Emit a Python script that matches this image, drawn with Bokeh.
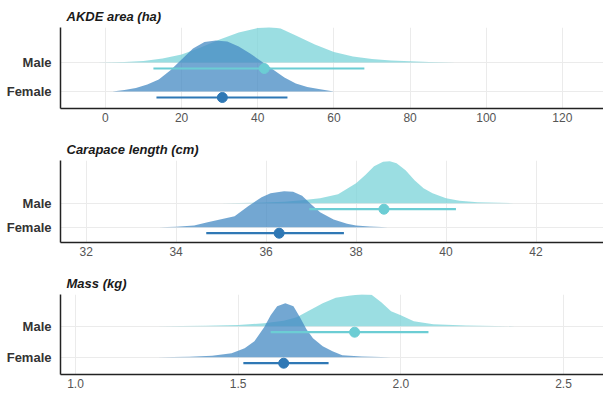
from bokeh.plotting import figure
from bokeh.layouts import column
from bokeh.models import FixedTicker, Range1d
from bokeh.embed import file_html
from bokeh.resources import INLINE

categories = ["Male", "Female"]

# ---- AKDE area (ha) ----
akde_x_male = [-2, 5, 10, 15, 20, 25, 30, 35, 40, 43, 46, 50, 55, 60, 65, 70, 75, 80, 85, 92]
akde_h_male = [0, 0.5, 1.5, 4, 8, 15, 23, 30, 34.5, 35.5, 34, 27, 18, 10.5, 6, 3.5, 2, 1.2, 0.6, 0]
akde_x_female = [1.8, 5, 8, 11, 14, 17, 20, 23, 26, 29, 32, 35, 38, 41, 44, 47, 50, 53, 56, 60]
akde_h_female = [0, 1.5, 3.5, 7, 12, 21, 32, 43, 49.5, 51, 50, 45, 38, 30, 22, 14, 8, 4.5, 2.5, 0]
akde_male_interval = [41.7, 12.6, 68.0]      # median, lower, upper
akde_female_interval = [30.7, 13.4, 47.8]
akde_ticks = [0, 20, 40, 60, 80, 100, 120]
akde_tick_labels = ["0", "20", "40", "60", "80", "100", "120"]

# ---- Carapace length (cm) ----
carapace_x_male = [35.0, 35.8, 36.4, 36.8, 37.2, 37.6, 38.0, 38.2, 38.4, 38.6, 38.75, 38.9, 39.1, 39.3, 39.5, 39.7, 40.0, 40.3, 40.7, 41.5]
carapace_h_male = [0, 0.5, 1.5, 3, 5, 9, 20, 28, 37, 41.5, 42, 40, 33, 23, 15, 10, 5, 2.5, 1, 0]
carapace_x_female = [33.62, 34.0, 34.4, 34.7, 35.0, 35.3, 35.6, 35.9, 36.1, 36.4, 36.6, 36.8, 37.0, 37.2, 37.5, 37.8, 38.0, 38.3, 38.7]
carapace_h_female = [0, 0.5, 1.7, 5, 8, 11, 21, 30, 34, 36, 35.5, 31.5, 23, 15, 7.7, 3.5, 1.7, 0.7, 0]
carapace_male_interval = [38.62, 36.96, 40.22]
carapace_female_interval = [36.29, 34.67, 37.73]
carapace_ticks = [32, 34, 36, 38, 40, 42]
carapace_tick_labels = ["32", "34", "36", "38", "40", "42"]

# ---- Mass (kg) ----
mass_x_male = [1.25, 1.40, 1.50, 1.58, 1.64, 1.68, 1.72, 1.76, 1.80, 1.84, 1.88, 1.91, 1.94, 1.97, 2.00, 2.04, 2.10, 2.20, 2.35]
mass_h_male = [0, 0.5, 1.2, 3, 5.5, 9, 16, 23, 28.5, 30.5, 32, 31.5, 24, 15, 11, 5, 2, 0.7, 0]
mass_x_female = [1.25, 1.35, 1.42, 1.48, 1.52, 1.55, 1.58, 1.60, 1.62, 1.645, 1.67, 1.69, 1.71, 1.73, 1.76, 1.79, 1.82, 1.88, 1.97]
mass_h_female = [0, 0.5, 1.5, 4, 9, 16, 30, 42, 51, 54, 51, 40, 28, 19, 11, 6, 2, 0.7, 0]
mass_male_interval = [1.858, 1.60, 2.085]
mass_female_interval = [1.64, 1.516, 1.778]
mass_ticks = [1.0, 1.5, 2.0, 2.5]
mass_tick_labels = ["1.0", "1.5", "2.0", "2.5"]

MALE_FILL = (122, 211, 216)
FEMALE_FILL = (68, 138, 195)
MALE_PT = "#6ccdd4"
FEMALE_PT = "#2f78b5"
FONT = "Liberation Sans"

W = 603
panels = [
    dict(title="AKDE area (ha)", xm=akde_x_male, hm=akde_h_male, xf=akde_x_female, hf=akde_h_female,
         im=akde_male_interval, iff=akde_female_interval, ticks=akde_ticks, labels=akde_tick_labels,
         xr=(-11.8, 130.8), yr=(-17, 64), moff=29, top=27, fh=81, bot=20),
    dict(title="Carapace length (cm)", xm=carapace_x_male, hm=carapace_h_male, xf=carapace_x_female, hf=carapace_h_female,
         im=carapace_male_interval, iff=carapace_female_interval, ticks=carapace_ticks, labels=carapace_tick_labels,
         xr=(31.43, 43.5), yr=(-15.3, 66.7), moff=24, top=32, fh=82, bot=20),
    dict(title="Mass (kg)", xm=mass_x_male, hm=mass_h_male, xf=mass_x_female, hf=mass_h_female,
         im=mass_male_interval, iff=mass_female_interval, ticks=mass_ticks, labels=mass_tick_labels,
         xr=(0.954, 2.623), yr=(-17.3, 62.7), moff=31, top=32, fh=80, bot=24),
]

figs = []
for pn in panels:
    h = pn["top"] + pn["fh"] + pn["bot"]
    p = figure(width=W, height=h, output_backend="svg", toolbar_location=None,
               x_range=Range1d(*pn["xr"]), y_range=Range1d(*pn["yr"]),
               min_border_left=60, min_border_right=0, min_border_top=pn["top"], min_border_bottom=pn["bot"])
    p.outline_line_color = None
    p.background_fill_color = "white"
    p.border_fill_color = "white"
    p.title.text = pn["title"]
    p.title.text_font = FONT
    p.title.text_font_style = "bold italic"
    p.title.text_font_size = "13px"
    p.title.text_color = "#1a1a1a"
    p.title.offset = 6
    p.title.standoff = 7

    moff = pn["moff"]
    # slabs
    p.varea(x=pn["xm"], y1=[moff] * len(pn["xm"]), y2=[moff + v for v in pn["hm"]],
            fill_color=MALE_FILL, fill_alpha=0.75)
    p.varea(x=pn["xf"], y1=[0] * len(pn["xf"]), y2=[v for v in pn["hf"]],
            fill_color=FEMALE_FILL, fill_alpha=0.75)
    # intervals
    for iv, base, col in ((pn["im"], moff, MALE_PT), (pn["iff"], 0, FEMALE_PT)):
        p.segment(x0=[iv[1]], y0=[base - 6], x1=[iv[2]], y1=[base - 6], line_color=col, line_width=2.2)
        p.scatter(x=[iv[0]], y=[base - 6], size=10, fill_color=col, line_color=col)

    # axes
    p.xaxis.ticker = FixedTicker(ticks=pn["ticks"])
    p.xaxis.major_label_overrides = {t: l for t, l in zip(pn["ticks"], pn["labels"])}
    p.yaxis.ticker = FixedTicker(ticks=[0, moff])
    p.yaxis.major_label_overrides = {0: categories[1], moff: categories[0]}
    for ax in (p.xaxis, p.yaxis):
        ax.major_tick_line_color = None
        ax.minor_tick_line_color = None
        ax.major_tick_out = 0
        ax.major_tick_in = 0
        ax.axis_line_color = "#222222"
        ax.axis_line_width = 1.5
        ax.major_label_text_font = FONT
    p.xaxis.major_label_text_font_size = "12px"
    p.xaxis.major_label_text_color = "#555555"
    p.xaxis.major_label_standoff = 4
    p.yaxis.major_label_text_font_size = "13px"
    p.yaxis.major_label_text_font_style = "bold"
    p.yaxis.major_label_text_color = "#333333"
    p.yaxis.major_label_standoff = 9
    p.xgrid.grid_line_color = "#ebebeb"
    p.ygrid.grid_line_color = "#ebebeb"
    p.xgrid.grid_line_width = 1
    p.ygrid.grid_line_width = 1
    figs.append(p)

layout = column(*figs, spacing=0)
open("out.html", "w").write(file_html(layout, INLINE))
